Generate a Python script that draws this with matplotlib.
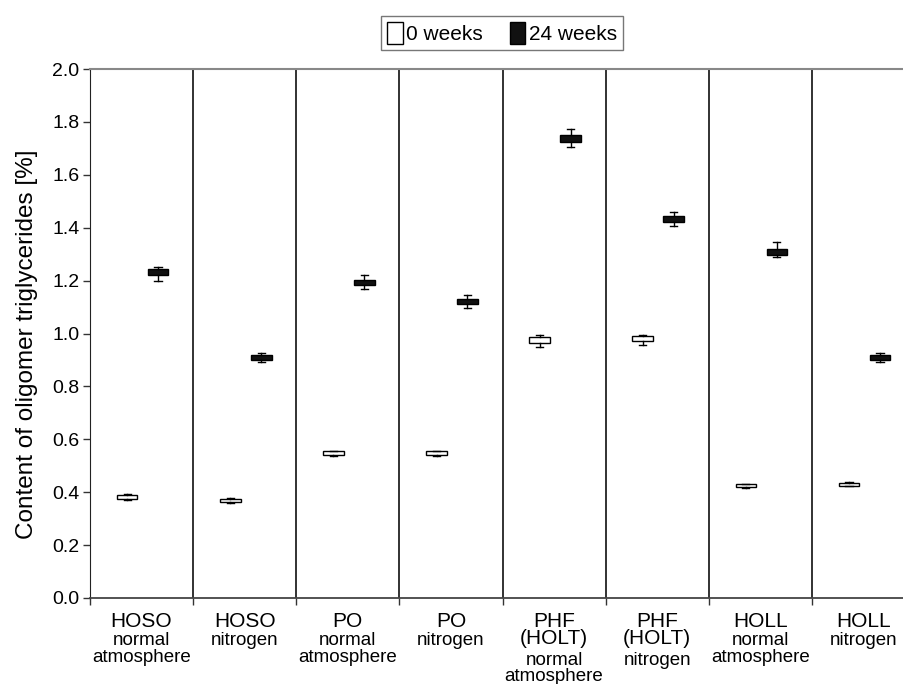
import matplotlib
matplotlib.use("Agg")
import matplotlib.pyplot as plt
from matplotlib.patches import Patch

plt.rcParams['font.family'] = ['Liberation Sans', 'DejaVu Sans']

# group labels: main name and storage condition
names = ["HOSO", "HOSO", "PO", "PO", "PHF\n(HOLT)", "PHF\n(HOLT)", "HOLL", "HOLL"]
conditions = ["normal\natmosphere", "nitrogen", "normal\natmosphere", "nitrogen",
              "normal\natmosphere", "nitrogen", "normal\natmosphere", "nitrogen"]

# 0 weeks: box q1/q3 and whisker ends (% oligomer triglycerides)
w0_q1 = [0.375, 0.362, 0.540, 0.540, 0.965, 0.970, 0.418, 0.424]
w0_q3 = [0.390, 0.375, 0.555, 0.555, 0.985, 0.990, 0.430, 0.436]
w0_lo = [0.370, 0.358, 0.536, 0.536, 0.950, 0.955, 0.416, 0.422]
w0_hi = [0.392, 0.377, 0.557, 0.557, 0.995, 0.995, 0.432, 0.438]

# 24 weeks
w24_q1 = [1.220, 0.900, 1.182, 1.112, 1.725, 1.420, 1.298, 0.900]
w24_q3 = [1.242, 0.920, 1.202, 1.130, 1.752, 1.445, 1.318, 0.920]
w24_lo = [1.200, 0.893, 1.170, 1.098, 1.705, 1.405, 1.290, 0.893]
w24_hi = [1.250, 0.928, 1.220, 1.145, 1.775, 1.460, 1.345, 0.928]


def make_stats(q1, q3, lo, hi):
    return [dict(med=(a + b) / 2, q1=a, q3=b, whislo=l, whishi=h, fliers=[])
            for a, b, l, h in zip(q1, q3, lo, hi)]


fig = plt.figure(figsize=(9.04, 6.84), dpi=100)
ax = fig.add_axes([90 / 904, 86 / 684, 825 / 904, 529 / 684])

n = len(names)
pos0 = [i + 0.36 for i in range(n)]
pos24 = [i + 0.66 for i in range(n)]

common = dict(widths=0.2, patch_artist=True, showfliers=False, capwidths=0.07,
              whiskerprops=dict(color='black', lw=1.0),
              capprops=dict(color='black', lw=1.0))
ax.bxp(make_stats(w0_q1, w0_q3, w0_lo, w0_hi), positions=pos0,
       boxprops=dict(facecolor='white', edgecolor='black', lw=1.0),
       medianprops=dict(color='black', lw=0), **common)
ax.bxp(make_stats(w24_q1, w24_q3, w24_lo, w24_hi), positions=pos24,
       boxprops=dict(facecolor='#111111', edgecolor='black', lw=1.0),
       medianprops=dict(color='#111111', lw=0), **common)

for i in range(1, n):
    ax.axvline(i, color='#222222', lw=1.3)

ax.set_xlim(0, n)
ax.set_ylim(0, 2.0)
ax.set_yticks([i * 0.2 for i in range(11)])
ax.set_yticklabels([f"{i * 0.2:.1f}" for i in range(11)], fontsize=14)
ax.set_xticks(range(n + 1))
ax.set_xticklabels([])
ax.tick_params(axis='both', direction='out', length=5, width=1, color='#333333')
ax.tick_params(axis='y', pad=2.5)
ax.set_ylabel("Content of oligomer triglycerides [%]", fontsize=17.5)
ax.yaxis.set_label_coords(-0.063, 0.48)

ax.spines['top'].set_color('#888888')
ax.spines['top'].set_linewidth(1.5)
ax.spines['right'].set_visible(False)
ax.spines['left'].set_color('#222222')
ax.spines['bottom'].set_color('#444444')
ax.spines['bottom'].set_linewidth(1.3)

for i in range(n):
    nmain = names[i].count("\n") + 1
    ax.annotate(names[i], xy=(i + 0.5, 0), xycoords=('data', 'axes fraction'),
                xytext=(0, -10), textcoords='offset points', ha='center', va='top',
                fontsize=15, linespacing=0.9, annotation_clip=False)
    ax.annotate(conditions[i], xy=(i + 0.5, 0), xycoords=('data', 'axes fraction'),
                xytext=(0, -10.5 - 14.2 * nmain), textcoords='offset points',
                ha='center', va='top', fontsize=13.5, linespacing=0.95,
                annotation_clip=False)

handles = [Patch(facecolor='white', edgecolor='black', label='0 weeks'),
           Patch(facecolor='#111111', edgecolor='black', label='24 weeks')]
leg = fig.legend(handles=handles, loc='center', bbox_to_anchor=(502 / 904, 1 - 33 / 684),
                 ncol=2, fontsize=15, frameon=True, fancybox=False,
                 handlelength=0.75, handleheight=1.2, handletextpad=0.15,
                 columnspacing=1.3, borderpad=0.3, edgecolor='#555555')
leg.get_frame().set_linewidth(1.0)

fig.savefig("out.png", dpi=100)
